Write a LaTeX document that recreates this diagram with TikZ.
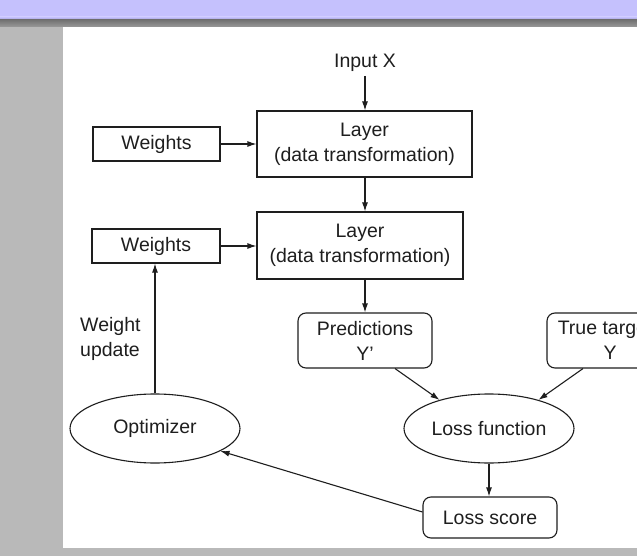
\documentclass[tikz,border=0pt]{standalone}
\usepackage{fontspec}
\setmainfont{Liberation Sans}
\usetikzlibrary{arrows.meta, positioning, shapes}
\definecolor{headerlav}{RGB}{197,193,253}
\definecolor{sidegray}{RGB}{185,185,185}
\definecolor{inkgray}{RGB}{30,30,30}

\begin{document}
\begin{tikzpicture}[x=1pt, y=-1pt,
    font=\fontsize{19.5}{25}\selectfont,
    box/.style={draw=inkgray, line width=1.1pt, inner sep=0pt, align=center, text=inkgray},
    roundbox/.style={box, rounded corners=8pt},
    oval/.style={box, ellipse, minimum width=170pt, minimum height=69pt},
    arr/.style={-{Latex[length=9pt, width=6pt]}, line width=1.1pt, draw=inkgray}]

    % Page background
    \useasboundingbox (0,0) rectangle (637,556);
    \clip (0,0) rectangle (637,556);
    \fill[headerlav] (0,0) rectangle (637,17);
    \shade[top color=headerlav, bottom color=headerlav!80!black] (0,17) rectangle (637,20);
    \shade[top color=black!55, bottom color=black!40] (0,20) rectangle (637,27);
    \fill[sidegray] (0,27) rectangle (637,556);
    \fill[white] (63,27) rectangle (637,548);

    % Layers
    \node[text=inkgray] (input) at (365,63) {Input X};
    \node[box, minimum width=215pt, minimum height=66pt] (layer1) at (364.5,144)
        {Layer\\(data transformation)};
    \node[box, minimum width=206pt, minimum height=67pt] (layer2) at (360,245.5)
        {Layer\\(data transformation)};

    % Weights
    \node[box, minimum width=127pt, minimum height=34pt] (weights1) at (156.5,144) {Weights};
    \node[box, minimum width=128pt, minimum height=34pt] (weights2) at (156,246) {Weights};

    % Outputs and targets
    \node[roundbox, minimum width=134pt, minimum height=55pt] (pred) at (365,340.5)
        {Predictions\\Y'};
    \node[roundbox, minimum width=126pt, minimum height=55pt] (truth) at (610,340.5)
        {True targets\\Y};

    % Loss and optimizer
    \node[oval] (lossfn) at (489,428.5) {Loss function};
    \node[oval] (optimizer) at (155,428.5) {Optimizer};
    \node[roundbox, minimum width=134pt, minimum height=41pt] (lossscore) at (490,517.5)
        {Loss score};
    \node[text=inkgray, align=left, inner sep=0pt, anchor=west] (update) at (80,339)
        {Weight\\update};

    % Connectors
    \draw[arr] (input.south |- 0,76) -- (input.south |- layer1.north);
    \draw[arr] (weights1.east) -- (weights1.east -| layer1.west);
    \draw[arr] (weights2.east) -- (weights2.east -| layer2.west);
    \draw[arr] (layer1.south -| input.south) -- (layer2.north -| input.south);
    \draw[arr] (layer2.south -| pred.north) -- (pred.north);
    \draw[arr] ([xshift=30pt]pred.south) -- (lossfn.150);
    \draw[arr] ([xshift=-27pt]truth.south) -- (lossfn.30);
    \draw[arr] (lossfn.south) -- (lossfn.south |- lossscore.north);
    \draw[arr] ([yshift=5.5pt]lossscore.west) -- (optimizer.-19);
    \draw[arr] (optimizer.north) -- (optimizer.north |- weights2.south);

\end{tikzpicture}
\end{document}
